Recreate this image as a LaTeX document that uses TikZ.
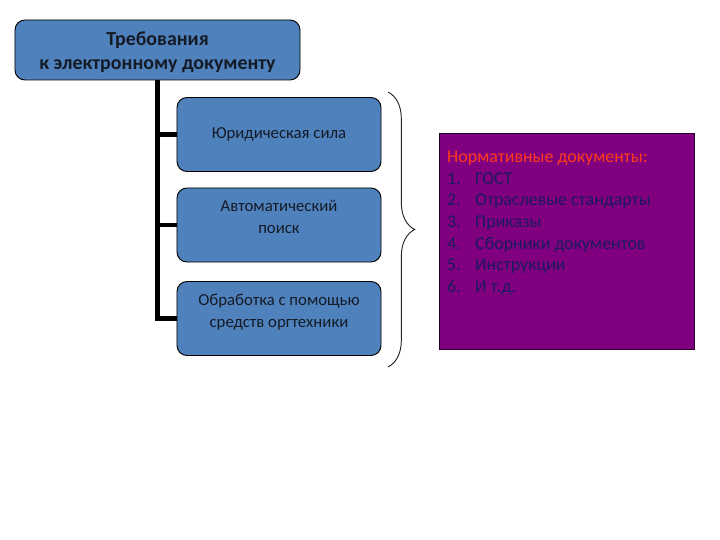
\documentclass[tikz,border=0pt]{standalone}
\usepackage{fontspec}
\setmainfont{Carlito}
\usetikzlibrary{decorations.pathreplacing}

\definecolor{boxblue}{HTML}{4F81BD}
\definecolor{boxtext}{HTML}{151B26}
\definecolor{normviolet}{HTML}{800080}
\definecolor{normred}{HTML}{FF3A1A}
\definecolor{normtext}{HTML}{1C1A5E}

\begin{document}
\begin{tikzpicture}[x=0.03cm,y=-0.03cm,
    reqbox/.style={draw=black, line width=0.8pt, fill=boxblue, rounded corners=0.3cm,
        align=center, text=boxtext},
    topbox/.style={reqbox, minimum width=8.55cm, minimum height=1.8cm,
        font=\fontsize{17}{20.6}\selectfont\bfseries},
    subbox/.style={reqbox, minimum width=6.12cm, minimum height=2.22cm,
        font=\fontsize{14.3}{18.7}\selectfont},
    trunk/.style={line width=3.8pt},
    normbrace/.style={draw=black!85, line width=0.8pt,
        decorate, decoration={brace, amplitude=0.8cm}}]

\useasboundingbox (0,0) rectangle (720,540);

% ===== Главный блок =====
\node[topbox] (top) at (157.5,50) {\mbox{}\\[-4.6pt]Требования\\к электронному документу};

% ===== Требования =====
\node[subbox] (b1) at (279,134.5) {Юридическая сила};
\node[subbox] (b2) at (279,225) {Автоматический\\поиск\\[-5pt]\mbox{}};
\node[subbox] (b3) at (279,318.5) {Обработка с помощью\\средств оргтехники\\[-5pt]\mbox{}};

% ===== Линии =====
\draw[trunk] (top.south) |- (b3.west);
\draw[trunk] (top.south |- b1.west) -- (b1.west);
\draw[trunk] (top.south |- b2.west) -- (b2.west);

% ===== Скобка =====
\draw[normbrace] (388,92) -- (388,367);

% ===== Нормативные документы =====
\node[draw=black!70!normviolet, line width=0.8pt, fill=normviolet,
    minimum width=7.65cm, minimum height=6.48cm] (norms) at (566.5,241) {};
\node[anchor=north west, inner sep=0pt, text=normtext,
    font=\fontsize{15.3}{18.5}\selectfont] (normlist) at (447,147) {%
  \begin{tabular}{@{}p{0.84cm}@{}l@{}}
    \multicolumn{2}{@{}l@{}}{\color{normred}Нормативные документы:}\\
    1. & ГОСТ\\
    2. & Отраслевые стандарты\\
    3. & Приказы\\
    4. & Сборники документов\\
    5. & Инструкции\\
    6. & И т.д.
  \end{tabular}};

\end{tikzpicture}
\end{document}
